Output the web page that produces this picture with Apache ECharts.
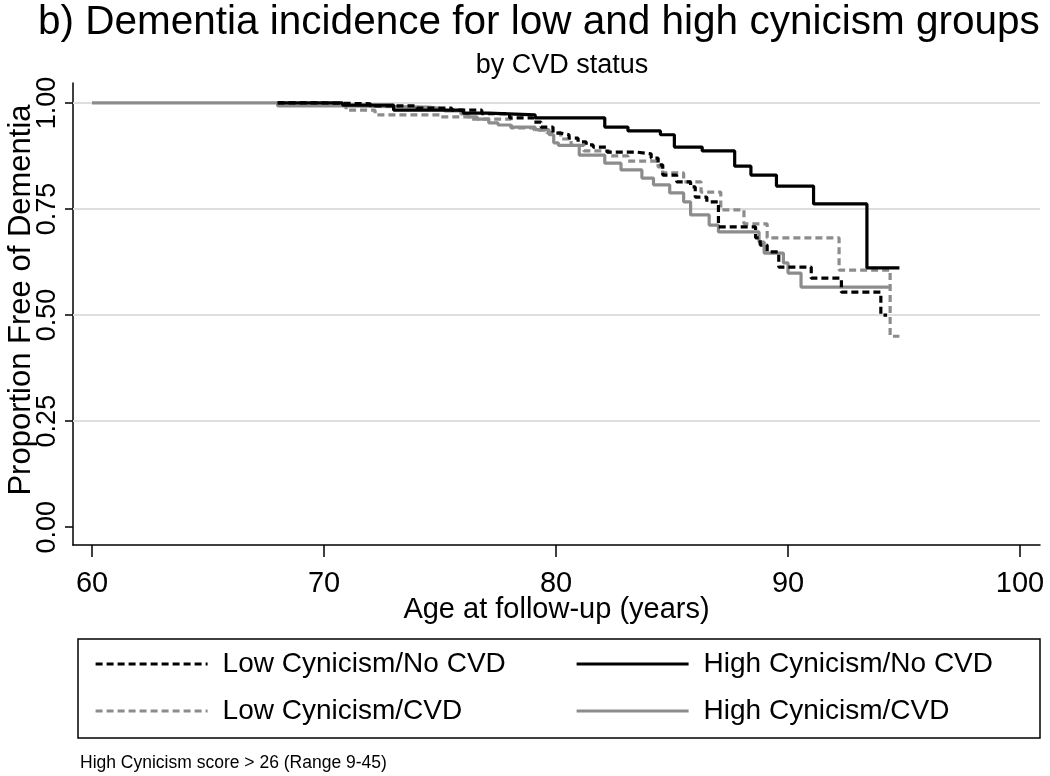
<!DOCTYPE html>
<html>
<head>
<meta charset="utf-8">
<script src="https://cdn.jsdelivr.net/npm/echarts@6/dist/echarts.min.js"></script>
<style>html,body{margin:0;padding:0;background:#fff;}#c{width:1050px;height:776px;}</style>
</head>
<body>
<div id="c"></div>
<script>
// ---- data ----
const xTicks = [60, 70, 80, 90, 100];
const yTicks = [0, 0.25, 0.5, 0.75, 1];
const yTickLabels = ['0.00', '0.25', '0.50', '0.75', '1.00'];
const gridValues = [0.25, 0.5, 0.75, 1];

const seriesNames = ['Low Cynicism/No CVD', 'High Cynicism/No CVD', 'Low Cynicism/CVD', 'High Cynicism/CVD'];

const lowNoCvdAge  = [68.0, 70.0, 72.0, 74.0, 75.5, 76.8, 78.0, 79.0, 79.35, 79.87, 80.2, 80.56, 80.95, 81.3, 81.6, 82.2, 83.5, 84.1, 84.4, 84.6, 85.2, 85.8, 86.0, 86.5, 87.0, 88.6, 88.8, 89.1, 89.6, 91.0, 92.3, 94.0, 94.27];
const lowNoCvdSurv = [1.0, 0.998, 0.993, 0.988, 0.983, 0.975, 0.965, 0.955, 0.943, 0.929, 0.925, 0.917, 0.908, 0.901, 0.896, 0.884, 0.880, 0.870, 0.854, 0.830, 0.814, 0.802, 0.778, 0.767, 0.708, 0.682, 0.665, 0.649, 0.613, 0.587, 0.554, 0.500, 0.500];

const highNoCvdAge  = [68.0, 70.8, 73.0, 76.0, 77.1, 79.1, 82.1, 83.1, 84.5, 85.1, 86.3, 87.7, 88.4, 89.5, 91.1, 93.4, 94.8];
const highNoCvdSurv = [1.000, 0.995, 0.983, 0.976, 0.972, 0.965, 0.943, 0.934, 0.925, 0.896, 0.887, 0.851, 0.830, 0.804, 0.762, 0.611, 0.611];

const lowCvdAge  = [68.0, 69.4, 70.95, 72.2, 75.0, 76.3, 78.06, 79.05, 79.6, 80.2, 80.65, 81.2, 82.3, 83.1, 84.4, 84.6, 85.5, 86.25, 87.1, 88.1, 89.1, 92.2, 94.4, 94.8];
const lowCvdSurv = [1.0, 0.996, 0.983, 0.972, 0.967, 0.962, 0.941, 0.936, 0.930, 0.915, 0.900, 0.887, 0.875, 0.863, 0.849, 0.835, 0.814, 0.790, 0.748, 0.715, 0.682, 0.606, 0.450, 0.450];

const highCvdAge  = [60, 68.0, 70.7, 74.5, 75.2, 75.9, 76.2, 76.6, 77.1, 77.5, 78.06, 79.1, 79.7, 79.9, 80.1, 81.0, 82.1, 82.8, 83.7, 84.2, 84.9, 85.5, 85.8, 86.6, 87.0, 88.75, 88.97, 89.8, 90.0, 90.56, 94.35];
const highCvdSurv = [1.0, 0.993, 0.990, 0.986, 0.981, 0.974, 0.967, 0.962, 0.953, 0.948, 0.943, 0.937, 0.925, 0.906, 0.900, 0.877, 0.858, 0.842, 0.823, 0.807, 0.788, 0.767, 0.736, 0.712, 0.696, 0.672, 0.646, 0.623, 0.599, 0.566, 0.566];

// ---- chart ----
const FONT = '"Liberation Sans", Arial, Helvetica, sans-serif';
const GRAY = '#8c8c8c';
const zip = (a, b) => a.map((v, i) => [v, b[i]]);

const chart = echarts.init(document.getElementById('c'), null, {renderer: 'canvas'});

function kmSeries(name, ages, surv, color, dashed) {
  return {
    name: name, type: 'line', step: 'end', symbol: 'none', showSymbol: false,
    data: zip(ages, surv),
    lineStyle: {color: color, width: 3.2, type: dashed ? [7, 4] : 'solid', cap: 'butt'},
    itemStyle: {color: color},
    emphasis: {disabled: true}, animation: false
  };
}

const legendCommon = {
  orient: 'vertical', itemWidth: 112, itemHeight: 14, itemGap: 19,
  itemStyle: {opacity: 0},
  lineStyle: {width: 3.2},
  textStyle: {fontFamily: FONT, fontSize: 28, color: '#000', padding: [0, 0, 0, 10]},
  selectedMode: false
};

chart.setOption({
  animation: false,
  backgroundColor: '#fff',
  title: [
    {text: 'b) Dementia incidence for low and high cynicism groups', left: 33, top: -3,
     textStyle: {fontFamily: FONT, fontSize: 40.5, fontWeight: 'normal', color: '#000'}},
    {text: 'by CVD status', left: 557, top: 47, textAlign: 'center',
     textStyle: {fontFamily: FONT, fontSize: 27, fontWeight: 'normal', color: '#000'}}
  ],
  grid: {left: 73, right: 10, top: 83, bottom: 231, containLabel: false, outerBoundsMode: 'none'},
  xAxis: {
    type: 'value', min: 59.18, max: 100.86,
    name: 'Age at follow-up (years)', nameLocation: 'middle', nameGap: 50, nameMoveOverlap: false,
    nameTextStyle: {fontFamily: FONT, fontSize: 29, color: '#000'},
    axisLine: {show: true, onZero: false, lineStyle: {color: '#000', width: 1.5}},
    axisTick: {show: true, length: 12, customValues: xTicks, lineStyle: {color: '#000', width: 1.5}},
    axisLabel: {customValues: xTicks, fontFamily: FONT, fontSize: 29, color: '#000', margin: 24},
    splitLine: {show: false}
  },
  yAxis: {
    type: 'value', min: -0.042, max: 1.047,
    name: 'Proportion Free of Dementia', nameLocation: 'middle', nameGap: 36, nameRotate: 90, nameMoveOverlap: false,
    nameTextStyle: {fontFamily: FONT, fontSize: 31, color: '#000', padding: [0, 0, 0, 28]},
    axisLine: {show: true, onZero: false, lineStyle: {color: '#000', width: 1.5}},
    axisTick: {show: true, length: 8, customValues: yTicks, lineStyle: {color: '#000', width: 1.5}},
    axisLabel: {customValues: yTicks, rotate: 90, fontFamily: FONT, fontSize: 27, color: '#000', margin: 12,
      formatter: v => { const i = yTicks.indexOf(v); return i >= 0 ? yTickLabels[i] : ''; }},
    splitLine: {show: false}
  },
  legend: [
    Object.assign({}, legendCommon, {left: 89, top: 645, data: [seriesNames[0], seriesNames[2]]}),
    Object.assign({}, legendCommon, {left: 570, top: 645, data: [seriesNames[1], seriesNames[3]]})
  ],
  graphic: [
    {type: 'rect', shape: {x: 78, y: 639, width: 962, height: 99},
     style: {fill: 'none', stroke: '#000', lineWidth: 1.5}, silent: true},
    {type: 'text', x: 80, y: 763, silent: true,
     style: {text: 'High Cynicism score > 26 (Range 9-45)', fontFamily: FONT, fontSize: 17.5, fill: '#000', verticalAlign: 'middle'}}
  ],
  series: [
    {
      name: 'grid', type: 'line', data: [], silent: true,
      markLine: {silent: true, z: 1, symbol: ['none', 'none'], label: {show: false},
        lineStyle: {color: '#dedede', width: 2, type: 'solid'},
        emphasis: {disabled: true},
        data: gridValues.map(v => ({yAxis: v}))}
    },
    kmSeries(seriesNames[3], highCvdAge, highCvdSurv, GRAY, false),
    kmSeries(seriesNames[2], lowCvdAge, lowCvdSurv, GRAY, true),
    kmSeries(seriesNames[0], lowNoCvdAge, lowNoCvdSurv, '#000', true),
    kmSeries(seriesNames[1], highNoCvdAge, highNoCvdSurv, '#000', false)
  ]
});
</script>
</body>
</html>
